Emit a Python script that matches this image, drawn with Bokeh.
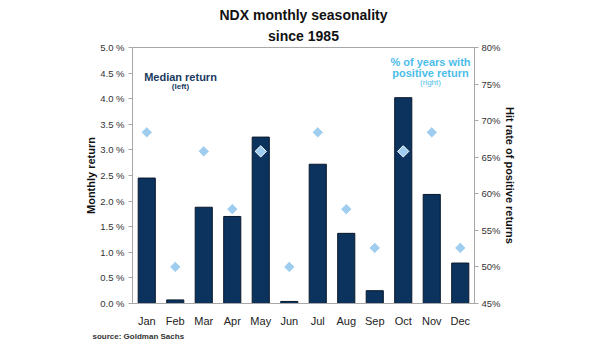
import math
from bokeh.plotting import figure
from bokeh.models import (FactorRange, Range1d, LinearAxis, FixedTicker,
                          PrintfTickFormatter, Label, ColumnDataSource, Title)
from bokeh.embed import file_html
from bokeh.resources import INLINE

months = ["Jan", "Feb", "Mar", "Apr", "May", "Jun",
          "Jul", "Aug", "Sep", "Oct", "Nov", "Dec"]
median_return = [2.45, 0.07, 1.88, 1.70, 3.25, 0.04,
                 2.72, 1.37, 0.25, 4.02, 2.13, 0.79]
hit_rate = [68.4, 50.0, 65.8, 57.9, 65.8, 50.0,
            68.4, 57.9, 52.6, 65.8, 68.4, 52.6]
left_ticks = [0.0, 0.5, 1.0, 1.5, 2.0, 2.5, 3.0, 3.5, 4.0, 4.5, 5.0]
right_ticks = [45, 50, 55, 60, 65, 70, 75, 80]

FONT = "Liberation Sans"
NAVY = "#0c335e"
LIGHT = "#9ecdf0"
CYAN = "#4cbde9"

src = ColumnDataSource(dict(month=months, ret=median_return, hit=hit_rate))

p = figure(width=605, height=341, output_backend="svg", toolbar_location=None,
           x_range=FactorRange(*months), y_range=Range1d(0, 5),
           min_border_left=132, min_border_right=131,
           min_border_top=47, min_border_bottom=37)
p.extra_y_ranges = {"right": Range1d(45, 80)}

def style_title(t, standoff):
    t.align = "center"
    t.text_font = FONT
    t.text_font_size = "14px"
    t.text_font_style = "bold"
    t.text_color = "#111111"
    t.standoff = standoff

p.title.text = "NDX monthly seasonality"
style_title(p.title, 0)
sub_title = Title(text="since 1985")
style_title(sub_title, 7)
p.add_layout(sub_title, "above")

p.vbar(x="month", top="ret", width=0.6, source=src,
       fill_color=NAVY, line_color="#08182c", line_width=1)
p.scatter(x="month", y="hit", y_range_name="right", source=src,
          marker="square", angle=math.pi / 4, size=8,
          fill_color=LIGHT, line_color="white", line_width=1)

p.xgrid.grid_line_color = None
p.ygrid.grid_line_color = None
p.outline_line_color = "#a8a8a8"
p.background_fill_color = "white"
p.border_fill_color = "white"

# left axis
ya = p.yaxis[0]
ya.ticker = FixedTicker(ticks=left_ticks)
ya.formatter = PrintfTickFormatter(format="%.1f %%")
ya.axis_label = "Monthly return"
ya.axis_label_text_font = FONT
ya.axis_label_text_font_style = "bold"
ya.axis_label_text_font_size = "11px"
ya.axis_label_text_color = "#111111"
ya.axis_label_standoff = 0
ya.major_label_text_font = FONT
ya.major_label_text_font_size = "9.5px"
ya.major_label_text_color = "#333333"
ya.major_label_standoff = 4
ya.axis_line_color = "#a8a8a8"
ya.major_tick_line_color = "#a8a8a8"
ya.major_tick_in = 0
ya.major_tick_out = 4
ya.minor_tick_line_color = None

# right axis
ra = LinearAxis(y_range_name="right", ticker=FixedTicker(ticks=right_ticks),
                formatter=PrintfTickFormatter(format="%d%%"))
ra.axis_label = "Hit rate of positive returns"
ra.axis_label_text_font = FONT
ra.axis_label_text_font_style = "bold"
ra.axis_label_text_font_size = "11px"
ra.axis_label_text_color = "#111111"
ra.axis_label_standoff = 0
ra.major_label_text_font = FONT
ra.major_label_text_font_size = "9.5px"
ra.major_label_text_color = "#333333"
ra.major_label_standoff = 3
ra.axis_line_color = "#a8a8a8"
ra.major_tick_line_color = "#a8a8a8"
ra.major_tick_in = 0
ra.major_tick_out = 4
ra.minor_tick_line_color = None
p.add_layout(ra, "right")

# bottom axis
xa = p.xaxis[0]
xa.major_label_text_font = FONT
xa.major_label_text_font_size = "11px"
xa.major_label_text_color = "#222222"
xa.axis_line_color = "#a8a8a8"
xa.major_tick_line_color = None
xa.major_label_standoff = 5

src_title = Title(text="source: Goldman Sachs", align="left", offset=-40,
                  text_font=FONT, text_font_size="8px", text_font_style="bold",
                  text_color="#333333", standoff=1)
p.add_layout(src_title, "below")

def lab(text, x, y, size, color, bold=True, align="center"):
    p.add_layout(Label(text=text, x=x, y=y, x_units="screen", y_units="screen",
                       text_font=FONT, text_font_size=size, text_color=color,
                       text_font_style="bold" if bold else "normal",
                       text_align=align, text_baseline="middle"))

lab("Median return", 48, 227, "11px", "#1a3a5e")
lab("(left)", 48, 217, "8px", "#1a3a5e")
lab("% of years with", 298, 242, "11px", CYAN)
lab("positive return", 298, 231, "11px", CYAN)
lab("(right)", 298, 221, "8px", CYAN, bold=False)

open("out.html", "w").write(file_html(p, INLINE))
